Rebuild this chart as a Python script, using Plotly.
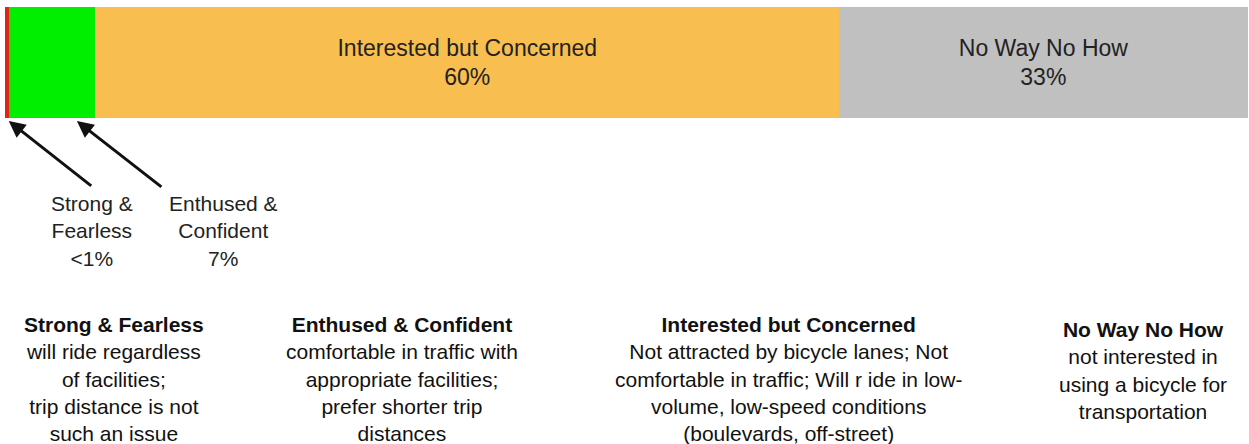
import plotly.graph_objects as go

# Tipos de ciclistas (share da população)
grupos = ["Strong & Fearless", "Enthused & Confident", "Interested but Concerned", "No Way No How"]
shares = [0.3, 7, 60, 33]
pct_labels = ["<1%", "7%", "60%", "33%"]
cores = ["#E2231A", "#00EE00", "#F9BE50", "#C0C0C0"]
textos_barra = ["", "", "Interested but Concerned<br>60%", "No Way No How<br>33%"]

descricoes = [
    "will ride regardless<br>of facilities;<br>trip distance is not<br>such an issue",
    "comfortable in traffic with<br>appropriate facilities;<br>prefer shorter trip<br>distances",
    "Not attracted by bicycle lanes; Not<br>comfortable in traffic; Will r ide in low-<br>volume, low-speed conditions<br>(boulevards, off-street)",
    "not interested in<br>using a bicycle for<br>transportation",
]
desc_x = [114, 402, 789, 1143]   # centro (px) de cada bloco de descrição
desc_y = [379, 379, 379, 370]

W, H = 1249, 444
FONTE = "Liberation Sans, Arial, sans-serif"

fig = go.Figure()
for g, s, c, t in zip(grupos, shares, cores, textos_barra):
    fig.add_trace(go.Bar(
        x=[s], y=[0], orientation="h", name=g,
        marker=dict(color=c, line=dict(width=0)),
        text=[t], textposition="inside", insidetextanchor="middle",
        textfont=dict(family=FONTE, size=23, color="#222222"),
        width=1, hoverinfo="skip",
    ))

# setas apontando para os dois primeiros segmentos (ponta logo abaixo da barra)
setas = [(shares[0], 84, 66), (5.8, 86, 67)]
anots = []
for xs, ax, ay in setas:
    anots.append(dict(
        x=xs, y=1 - 121 / H, xref="x", yref="paper", text="", showarrow=True,
        ax=ax, ay=ay, arrowhead=2, arrowsize=1.1, arrowwidth=3, arrowcolor="#111111",
    ))

# rótulos curtos abaixo das setas
for texto, cx in [(f"Strong &<br>Fearless<br>{pct_labels[0]}", 92),
                  (f"Enthused &<br>Confident<br>{pct_labels[1]}", 223)]:
    anots.append(dict(
        x=cx / W, y=1 - 231 / H, xref="paper", yref="paper", text=texto,
        showarrow=False, xanchor="center", yanchor="middle", align="center",
        font=dict(family=FONTE, size=21, color="#222222"),
    ))

# descrições na parte de baixo
for g, d, cx, cy in zip(grupos, descricoes, desc_x, desc_y):
    anots.append(dict(
        x=cx / W, y=1 - cy / H, xref="paper", yref="paper",
        text=f"<b>{g}</b><br>{d}", showarrow=False,
        xanchor="center", yanchor="middle", align="center",
        font=dict(family=FONTE, size=21, color="#111111"),
    ))

fig.update_layout(
    barmode="stack",
    width=W, height=H,
    margin=dict(l=0, r=0, t=0, b=0),
    paper_bgcolor="white", plot_bgcolor="white",
    showlegend=False,
    annotations=anots,
    xaxis=dict(domain=[5 / W, 1248 / W], range=[0, sum(shares)], visible=False, fixedrange=True),
    yaxis=dict(domain=[1 - 118 / H, 1 - 7 / H], range=[-0.5, 0.5], visible=False, fixedrange=True),
)

fig.write_html("out.html", config={"displayModeBar": False},
               post_script="document.body.style.margin='0';")
